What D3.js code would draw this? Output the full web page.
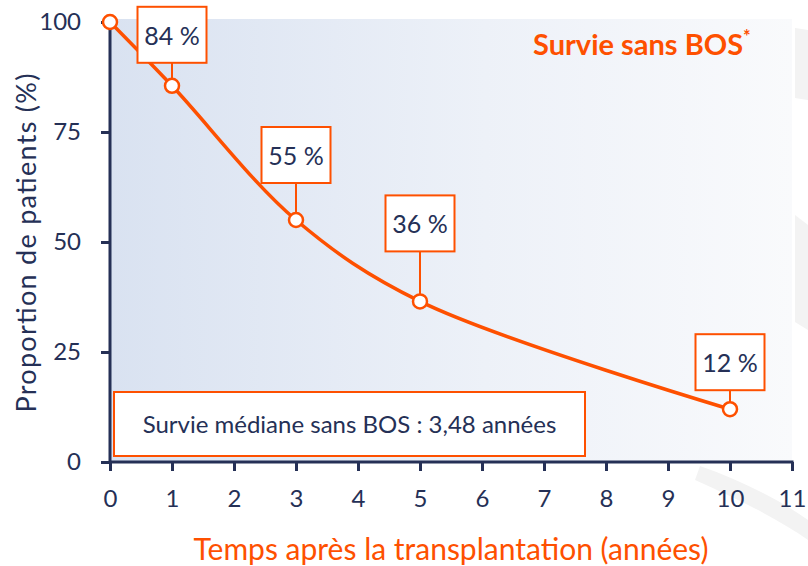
<!DOCTYPE html>
<html>
<head>
<meta charset="utf-8">
<script src="https://cdn.jsdelivr.net/npm/d3@7"></script>
<style>
  body { margin: 0; background: #fff; }
  svg { display: block; font-family: Lato, "Open Sans", sans-serif; }
</style>
</head>
<body>
<svg id="chart" width="808" height="566"></svg>
<script>
// data
let years = [0, 1, 3, 5, 10];
let survival = [100, 85.5, 55, 36.5, 12];
let pointLabels = [null, "84 %", "55 %", "36 %", "12 %"];
let xTicks = [0, 1, 2, 3, 4, 5, 6, 7, 8, 9, 10, 11];
let yTicks = [0, 25, 50, 75, 100];
// how far each label box sits above its point (px)
let labelLift = [0, 23, 37, 50, 19];

let orange = "#fe5000";
let navy = "#253056";

let svg = d3.select("#chart");
let margin = {"left": 110, "top": 22, "right": 16, "bottom": 104};
let width = 808, height = 566;

let x = d3.scaleLinear().domain([0, 11]).range([margin.left, width - margin.right]);
let y = d3.scaleLinear().domain([0, 100]).range([height - margin.bottom, margin.top]);

let defs = svg.append("defs");
let grad = defs.append("linearGradient").attr("id", "bgGrad");
grad.append("stop").attr("offset", "0%").attr("stop-color", "#d9e2f1");
grad.append("stop").attr("offset", "55%").attr("stop-color", "#edf1f8");
grad.append("stop").attr("offset", "100%").attr("stop-color", "#f9fafc");

// faint watermark shapes at the right edge
let wm = svg.append("g").attr("fill", "#f3f3f3");
wm.append("path").attr("d", "M795,28 L808,30 L808,100 L795,98 Z");
wm.append("path").attr("d", "M795,215 L808,225 L808,330 L795,322 Z");
wm.append("path").attr("d", "M700,466 C740,480 780,500 808,520 L808,540 C780,520 740,500 695,480 Z");

svg.append("rect")
	.attr("x", x(0))
	.attr("y", 19)
	.attr("width", x(11) - x(0))
	.attr("height", y(0) - 19)
	.attr("fill", "url(#bgGrad)");

// median box
let medBox = svg.append("g");
medBox.append("rect")
	.attr("x", 114).attr("y", 392)
	.attr("width", 471).attr("height", 64)
	.attr("fill", "#fff")
	.attr("stroke", orange)
	.attr("stroke-width", 2);
medBox.append("text")
	.attr("x", 114 + 471 / 2).attr("y", 433)
	.attr("text-anchor", "middle")
	.attr("font-size", 24)
	.attr("fill", navy)
	.text("Survie médiane sans BOS : 3,48 années");

// axes
let xAxis = svg.append("g")
	.attr("transform", `translate(0,${y(0)})`)
	.call(d3.axisBottom(x).tickValues(xTicks).tickSize(9).tickPadding(19).tickSizeOuter(0));
let yAxis = svg.append("g")
	.attr("transform", `translate(${x(0)},0)`)
	.call(d3.axisLeft(y).tickValues(yTicks).tickSize(9).tickPadding(20).tickSizeOuter(0));

[xAxis, yAxis].forEach(function(ax){
	ax.selectAll("path, line").attr("stroke", navy).attr("stroke-width", 3);
	ax.selectAll("text").attr("fill", navy).attr("font-size", 24).attr("font-family", "Lato, 'Open Sans', sans-serif");
});
xAxis.select(".domain").attr("d", `M${x(0) - 1},0H${x(11) + 1.5}`);
yAxis.select(".domain").attr("d", `M0,${y(100)}V${y(0) + 1.5}`);

// curve
let pts = years.map((d, i) => [d, survival[i]]);
let line = d3.line()
	.x(d => x(d[0]))
	.y(d => y(d[1]))
	.curve(d3.curveCatmullRom.alpha(0.5));

svg.append("path")
	.datum(pts)
	.attr("d", line)
	.attr("fill", "none")
	.attr("stroke", orange)
	.attr("stroke-width", 3.5);

// label boxes
let boxW = 69, boxH = 56;
let labels = svg.append("g");
pts.forEach(function(p, i){
	if (!pointLabels[i]) return;
	let cx = x(p[0]), cy = y(p[1]);
	let bottom = cy - labelLift[i];
	labels.append("line")
		.attr("x1", cx).attr("x2", cx)
		.attr("y1", bottom).attr("y2", cy)
		.attr("stroke", orange)
		.attr("stroke-width", 2);
	labels.append("rect")
		.attr("x", cx - boxW / 2).attr("y", bottom - boxH)
		.attr("width", boxW).attr("height", boxH)
		.attr("fill", "#fff")
		.attr("stroke", orange)
		.attr("stroke-width", 2);
	labels.append("text")
		.attr("x", cx).attr("y", bottom - boxH / 2 + 10)
		.attr("text-anchor", "middle")
		.attr("font-size", 25)
		.attr("fill", navy)
		.text(pointLabels[i]);
});

svg.append("g").selectAll("circle")
	.data(pts)
	.enter().append("circle")
	.attr("cx", d => x(d[0]))
	.attr("cy", d => y(d[1]))
	.attr("r", 7)
	.attr("fill", "#fff")
	.attr("stroke", orange)
	.attr("stroke-width", 2.5);

// titles
let title = svg.append("text")
	.attr("x", 533).attr("y", 55)
	.attr("font-size", 29)
	.attr("font-weight", "bold")
	.attr("fill", orange);
title.append("tspan").text("Survie sans BOS");
title.append("tspan").attr("dy", -12).attr("font-size", 18).text("*");

svg.append("text")
	.attr("transform", `translate(36,243) rotate(-90)`)
	.attr("text-anchor", "middle")
	.attr("font-size", 27)
	.attr("textLength", 339)
	.attr("lengthAdjust", "spacing")
	.attr("fill", navy)
	.text("Proportion de patients (%)");

svg.append("text")
	.attr("x", 451).attr("y", 560)
	.attr("text-anchor", "middle")
	.attr("font-size", 30)
	.attr("fill", orange)
	.text("Temps après la transplantation (années)");
</script>
</body>
</html>
